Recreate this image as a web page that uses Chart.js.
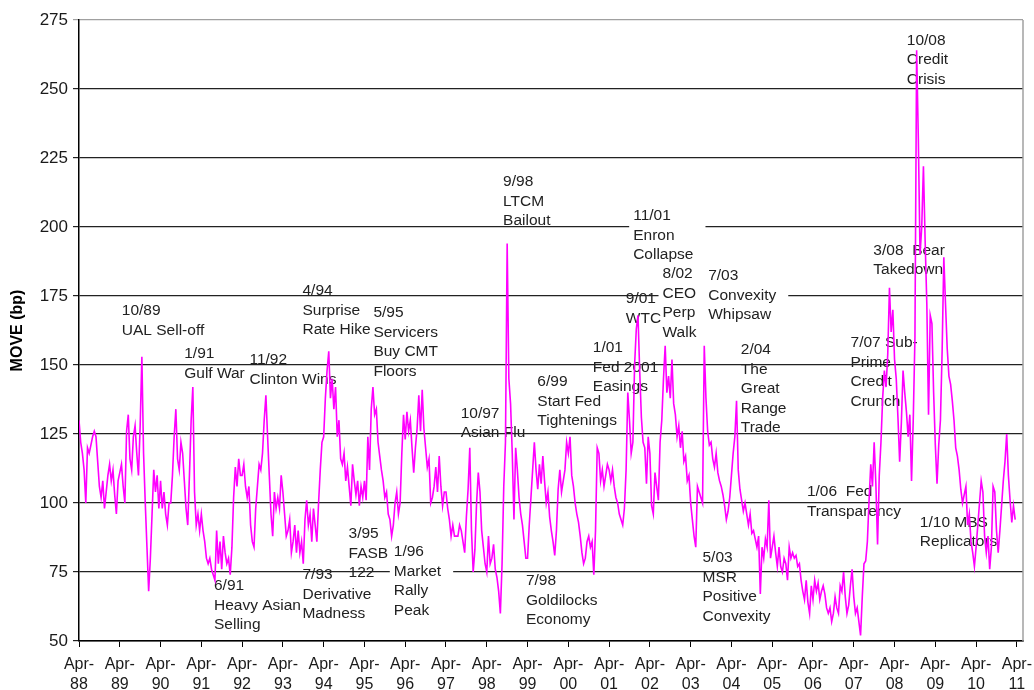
<!DOCTYPE html>
<html>
<head>
<meta charset="utf-8">
<script src="https://cdn.jsdelivr.net/npm/chart.js@4.4.0/dist/chart.umd.min.js"></script>
<style>
  body { margin: 0; background: #fff; }
  #wrap { width: 1034px; height: 690px; }
</style>
</head>
<body>
<div id="wrap"><canvas id="chart"></canvas></div>
<script>
// MOVE index, two readings a month starting Apr-88
const startDate = 1988.25;
const pointsPerYear = 24;
const move = [
  130,122,118,112,100,120,118,121,124,126,124,115,106,102,108,98,104,110,114,108,112,103,96,108,
  111,114,106,100,126,132,116,112,124,128,118,110,128,153,118,100,84,68,80,96,112,104,110,98,
  108,98,104,96,92,100,100,110,124,134,116,112,122,118,108,98,92,110,130,142,104,92,96,90,
  96,90,86,80,78,80,76,74,72,90,78,86,76,88,82,78,80,74,84,102,113,106,116,110,
  110,114,106,102,106,92,86,84,98,106,114,112,118,130,139,124,110,96,88,104,98,102,98,110,
  104,96,88,90,94,82,86,92,82,90,82,86,78,94,101,92,96,86,98,92,86,100,112,122,
  124,138,148,155,138,145,134,142,124,130,116,114,118,108,113,106,99,114,108,103,108,99,106,102,
  108,101,124,112,134,142,132,134,122,117,112,108,102,104,96,94,88,92,100,104,96,100,118,132,
  123,133,126,130,120,111,120,127,139,126,141,127,120,113,116,100,102,106,113,104,117,106,99,104,
  104,98,94,88,92,88,88,88,92,90,86,82,95,105,120,90,75,83,100,111,104,90,84,78,
  75,88,78,80,85,76,73,68,60,78,106,122,194,145,136,118,94,120,112,102,96,92,86,80,
  80,92,102,112,122,112,105,114,107,117,108,100,104,95,90,86,81,90,105,112,104,108,112,122,
  118,124,110,106,100,96,93,88,82,78,80,86,88,84,86,74,90,120,118,108,112,106,110,114,
  112,108,112,106,102,100,96,94,92,98,112,140,130,118,122,150,163,168,148,131,122,120,107,124,
  118,99,96,111,106,101,122,130,145,157,140,146,138,152,136,132,124,128,120,126,115,117,108,110,
  100,94,88,84,106,104,102,100,157,138,126,121,122,116,113,118,111,108,106,103,99,94,97,102,
  110,118,124,137,112,105,101,97,100,96,92,96,89,90,87,84,88,67,84,80,87,84,101,80,
  84,88,82,77,84,77,75,80,78,72,84,80,82,80,81,77,78,72,68,65,72,64,60,70,
  65,72,68,71,65,68,70,67,62,60,62,57,60,66,62,60,70,68,75,66,60,63,70,76,
  66,60,62,57,52,66,78,79,86,101,114,106,122,107,85,110,122,138,148,142,154,178,162,170,
  152,145,131,115,129,148,140,133,124,132,108,130,160,264,232,190,200,222,195,172,132,168,165,140,
  121,107,121,130,155,189,172,156,146,143,137,130,120,117,112,105,100,103,106,92,96,86,82,77,
  84,92,100,108,104,88,82,88,76,84,106,104,90,82,90,99,108,115,125,110,101,93,99,94
];

const tickYears = [1988,1989,1990,1991,1992,1993,1994,1995,1996,1997,1998,1999,
                   2000,2001,2002,2003,2004,2005,2006,2007,2008,2009,2010,2011];
const tickLabels = ['88','89','90','91','92','93','94','95','96','97','98','99',
                    '00','01','02','03','04','05','06','07','08','09','10','11'];

// event notes, anchored at (date, value) of their first line
const events = [
  { date: 1989.30, value: 169.6, lines: ['10/89', 'UAL Sell-off'] },
  { date: 1990.83, value: 154.0, lines: ['1/91', 'Gulf War'] },
  { date: 1992.43, value: 151.8, lines: ['11/92', 'Clinton Wins'] },
  { date: 1993.73, value: 176.8, lines: ['4/94', 'Surprise', 'Rate Hike'] },
  { date: 1995.47, value: 168.8, lines: ['5/95', 'Servicers', 'Buy CMT', 'Floors'] },
  { date: 1991.56, value: 69.9, lines: ['6/91', 'Heavy Asian', 'Selling'] },
  { date: 1993.73, value: 73.9, lines: ['7/93', 'Derivative', 'Madness'] },
  { date: 1994.86, value: 88.8, lines: ['3/95', 'FASB', '122'] },
  { date: 1995.97, value: 82.2, lines: ['1/96', 'Market', 'Rally', 'Peak'] },
  { date: 1997.61, value: 132.4, lines: ['10/97', 'Asian Flu'] },
  { date: 1998.65, value: 216.3, lines: ['9/98', 'LTCM', 'Bailout'] },
  { date: 2001.84, value: 204.0, lines: ['11/01', 'Enron', 'Collapse'] },
  { date: 2002.56, value: 183.0, lines: ['8/02', 'CEO', 'Perp', 'Walk'] },
  { date: 2001.66, value: 173.9, lines: ['9/01', 'WTC'] },
  { date: 2003.68, value: 182.2, lines: ['7/03', 'Convexity', 'Whipsaw'] },
  { date: 2000.85, value: 156.2, lines: ['1/01', 'Fed 2001', 'Easings'] },
  { date: 1999.49, value: 143.8, lines: ['6/99', 'Start Fed', 'Tightenings'] },
  { date: 1999.21, value: 71.7, lines: ['7/98', 'Goldilocks', 'Economy'] },
  { date: 2003.54, value: 80.1, lines: ['5/03', 'MSR', 'Positive', 'Convexity'] },
  { date: 2004.48, value: 155.4, lines: ['2/04', 'The', 'Great', 'Range', 'Trade'] },
  { date: 2006.10, value: 104.0, lines: ['1/06  Fed', 'Transparency'] },
  { date: 2007.17, value: 158.0, lines: ['7/07 Sub-', 'Prime', 'Credit', 'Crunch'] },
  { date: 2007.73, value: 191.5, lines: ['3/08  Bear', 'Takedown'] },
  { date: 2008.55, value: 267.5, lines: ['10/08', 'Credit', 'Crisis'] },
  { date: 2008.87, value: 93.0, lines: ['1/10 MBS', 'Replicators'] }
];
// notes sitting on a white box that hides the grid
const boxed = ['11/01', '8/02', '7/03', '1/96'];

const lineGap = 19.5;
const font = '"Liberation Sans", Arial, sans-serif';

const eventNotes = {
  id: 'eventNotes',
  beforeDatasetsDraw(chart) {
    const { ctx, scales: { x, y } } = chart;
    ctx.save();
    ctx.font = '15.5px ' + font;
    ctx.textBaseline = 'middle';
    events.forEach(ev => {
      const left = x.getPixelForValue(ev.date);
      const top = y.getPixelForValue(ev.value);
      if (boxed.includes(ev.lines[0])) {
        const w = Math.max(...ev.lines.map(l => ctx.measureText(l).width));
        ctx.fillStyle = '#fff';
        ctx.fillRect(left - 4, top - 11, w + 16, ev.lines.length * lineGap + 2);
      }
      ctx.fillStyle = '#222';
      ev.lines.forEach((l, i) => ctx.fillText(l, left, top + i * lineGap));
    });
    ctx.restore();
  },
  afterDraw(chart) {
    const { ctx, chartArea } = chart;
    ctx.save();
    ctx.strokeStyle = '#a0a0a0';
    ctx.lineWidth = 1.5;
    ctx.beginPath();
    ctx.moveTo(chartArea.right, chartArea.top);
    ctx.lineTo(chartArea.right, chartArea.bottom);
    ctx.stroke();
    ctx.restore();
  }
};

new Chart(document.getElementById('chart'), {
  type: 'line',
  data: {
    datasets: [{
      data: move.map((v, i) => ({ x: startDate + i / pointsPerYear, y: v })),
      borderColor: '#ff00ff',
      borderWidth: 1.6,
      pointRadius: 0,
      tension: 0,
      fill: false
    }]
  },
  options: {
    responsive: true,
    maintainAspectRatio: false,
    animation: false,
    layout: { padding: { top: 20, right: 11, left: 0, bottom: 0 } },
    plugins: { legend: { display: false }, tooltip: { enabled: false } },
    scales: {
      x: {
        type: 'linear',
        min: 1988.25,
        max: 2011.4,
        afterBuildTicks: s => { s.ticks = tickYears.map(yr => ({ value: yr + 0.25 })); },
        afterFit: s => { s.height = 49; s.paddingLeft = 0; s.paddingRight = 0; },
        grid: { drawOnChartArea: false, drawTicks: true, tickLength: 6, color: '#000' },
        border: { color: '#000', width: 1.5 },
        ticks: {
          autoSkip: false,
          maxRotation: 0,
          padding: 8,
          color: '#1a1a1a',
          font: { family: font, size: 16, lineHeight: 1.25 },
          callback: (v, i) => ['Apr-', tickLabels[i]]
        }
      },
      y: {
        min: 50,
        max: 275,
        afterFit: s => { s.width = 79; },
        grid: {
          color: c => (c.tick && c.tick.value === 275 ? '#a0a0a0' : '#222'),
          lineWidth: 1.2,
          tickLength: 6
        },
        border: { color: '#000', width: 1.5 },
        ticks: {
          stepSize: 25,
          padding: 5,
          color: '#1a1a1a',
          font: { family: font, size: 17 }
        },
        title: {
          display: true,
          text: 'MOVE (bp)',
          color: '#000',
          padding: { top: 8, bottom: 0 },
          font: { family: font, size: 16, weight: 'bold' }
        }
      }
    }
  },
  plugins: [eventNotes]
});
</script>
</body>
</html>
